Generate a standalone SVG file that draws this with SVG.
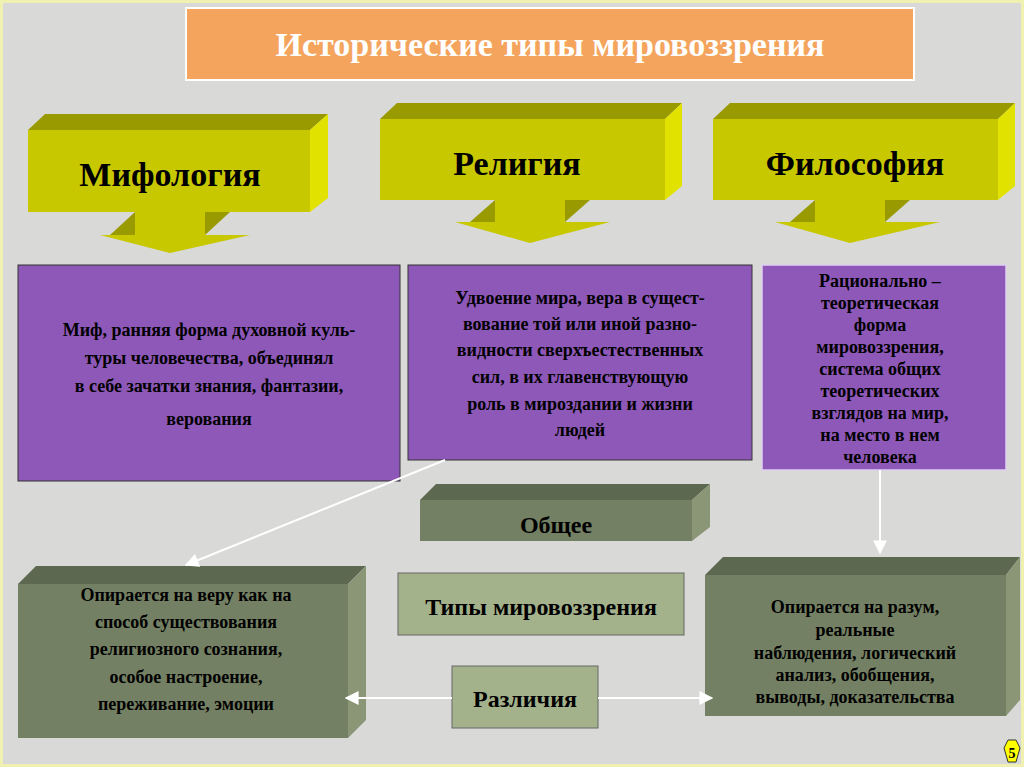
<svg xmlns="http://www.w3.org/2000/svg" width="1024" height="767" viewBox="0 0 1024 767">
<defs>
<style>
.t{font-family:"Liberation Serif",serif;font-weight:bold;fill:#000;text-anchor:middle}
.w{font-family:"Liberation Serif",serif;font-weight:bold;fill:#fff;text-anchor:middle}
.front{fill:#c8c800}.top{fill:#999900}.side{fill:#e2e200}
.purple{fill:#8e58b8;stroke:#333;stroke-width:1}
.gf{fill:#748063}.gt{fill:#5c6850}.gs{fill:#8a9676}
.lg{fill:#a4b28c;stroke:#666;stroke-width:1}
.con{stroke:#fff;stroke-width:2;fill:none}
</style>
<marker id="ah" viewBox="0 0 10 10" refX="9" refY="5" markerWidth="7" markerHeight="7" orient="auto-start-reverse"><path d="M0,0L10,5L0,10z" fill="#fff"/></marker>
</defs>
<rect x="0" y="0" width="1024" height="767" fill="#f0f0b0"/>
<rect x="3" y="3" width="1018" height="761" fill="#d9d9d7"/>
<g id="title"><rect x="186" y="8" width="728" height="72" fill="#f4a45c" stroke="#fff" stroke-width="2"/><text class="w" x="550" y="56" font-size="34">Исторические типы мировоззрения</text></g>
<g id="myth">
<polygon class="top" points="28,130 45,114 328,114 310,130"/><polygon class="side" points="310,130 328,114 328,198 310,212"/>
<rect class="front" x="28" y="130" width="282" height="82"/>
<polygon class="top" points="135,212 110,235 135,235"/><polygon class="top" points="205,212 230,212 205,235"/>
<polygon class="front" points="135,212 205,212 205,235 250,235 170,253 100,235 135,235"/>
<text class="t" x="170" y="186" font-size="34">Мифология</text></g>
<g id="rel">
<polygon class="top" points="380,119 397,103 682,103 665,119"/><polygon class="side" points="665,119 682,103 682,186 665,200"/>
<rect class="front" x="380" y="119" width="285" height="81"/>
<polygon class="top" points="495,200 470,222 495,222"/><polygon class="top" points="565,200 590,200 565,222"/>
<polygon class="front" points="495,200 565,200 565,222 610,222 530,243 455,222 495,222"/>
<text class="t" x="517" y="175" font-size="34">Религия</text></g>
<g id="phil">
<polygon class="top" points="713,119 730,103 1015,103 998,119"/><polygon class="side" points="998,119 1015,103 1015,186 998,200"/>
<rect class="front" x="713" y="119" width="285" height="81"/>
<polygon class="top" points="815,200 790,222 815,222"/><polygon class="top" points="885,200 910,200 885,222"/>
<polygon class="front" points="815,200 885,200 885,222 940,222 850,243 775,222 815,222"/>
<text class="t" x="855" y="175" font-size="34">Философия</text></g>
<g id="b1"><rect class="purple" x="18" y="265" width="382" height="216"/>
<text class="t" font-size="18"><tspan x="209" y="336">Миф, ранняя форма духовной куль-</tspan><tspan x="209" y="364">туры человечества, объединял</tspan><tspan x="209" y="392">в себе зачатки знания, фантазии,</tspan><tspan x="209" y="425">верования</tspan></text></g>
<g id="b2"><rect class="purple" x="408" y="265" width="344" height="195"/>
<text class="t" font-size="18"><tspan x="580" y="304">Удвоение мира, вера в сущест-</tspan><tspan x="580" y="330">вование той или иной разно-</tspan><tspan x="580" y="356">видности сверхъестественных</tspan><tspan x="580" y="383">сил, в их главенствующую</tspan><tspan x="580" y="410">роль в мироздании и жизни</tspan><tspan x="580" y="436">людей</tspan></text></g>
<g id="b3"><rect x="762" y="265" width="244" height="205" fill="#8e58b8" stroke="#e0d0f0" stroke-width="1.5"/>
<text class="t" font-size="18"><tspan x="880" y="287">Рационально –</tspan><tspan x="880" y="309">теоретическая</tspan><tspan x="880" y="331">форма</tspan><tspan x="880" y="353">мировоззрения,</tspan><tspan x="880" y="375">система общих</tspan><tspan x="880" y="397">теоретических</tspan><tspan x="880" y="419">взглядов на мир,</tspan><tspan x="880" y="441">на место в нем</tspan><tspan x="880" y="463">человека</tspan></text></g>
<g id="common"><polygon class="gt" points="420,500 436,484 710,484 692,500"/><polygon class="gs" points="692,500 710,484 710,527 692,541"/><rect class="gf" x="420" y="500" width="272" height="41"/>
<text class="t" x="556" y="533" font-size="24">Общее</text></g>
<g id="types"><rect class="lg" x="398" y="573" width="286" height="62"/><text class="t" x="541" y="615" font-size="24">Типы мировоззрения</text></g>
<g id="diff"><rect class="lg" x="452" y="666" width="146" height="62" stroke="#333"/><text class="t" x="525" y="707" font-size="24">Различия</text></g>
<g id="left"><polygon class="gt" points="18,584 36,566 366,566 348,584"/><polygon class="gs" points="348,584 366,566 366,720 348,738"/><rect class="gf" x="18" y="584" width="330" height="154"/>
<text class="t" font-size="18"><tspan x="186" y="601">Опирается на веру как на</tspan><tspan x="186" y="628">способ существования</tspan><tspan x="186" y="655">религиозного сознания,</tspan><tspan x="186" y="683">особое настроение,</tspan><tspan x="186" y="710">переживание, эмоции</tspan></text></g>
<g id="right"><polygon class="gt" points="705,575 723,557 1020,557 1006,575"/><polygon class="gs" points="1006,575 1020,557 1020,700 1006,716"/><rect class="gf" x="705" y="575" width="301" height="141"/>
<text class="t" font-size="18"><tspan x="855" y="613">Опирается на разум,</tspan><tspan x="855" y="636">реальные</tspan><tspan x="855" y="659">наблюдения, логический</tspan><tspan x="855" y="681">анализ, обобщения,</tspan><tspan x="855" y="703">выводы, доказательства</tspan></text></g>
<g id="connectors">
<line class="con" x1="445" y1="460" x2="186" y2="565" marker-end="url(#ah)"/>
<line class="con" x1="880" y1="470" x2="880" y2="553" marker-end="url(#ah)"/>
<line class="con" x1="452" y1="698" x2="346" y2="698" marker-end="url(#ah)"/>
<line class="con" x1="598" y1="698" x2="712" y2="698" marker-end="url(#ah)"/>
</g>
<g id="page"><polygon points="1004,748 1008,740 1016,740 1020,748 1016,762 1008,762" fill="#ffff00" stroke="#333"/><text class="t" x="1012" y="758" font-size="14">5</text></g>
</svg>
